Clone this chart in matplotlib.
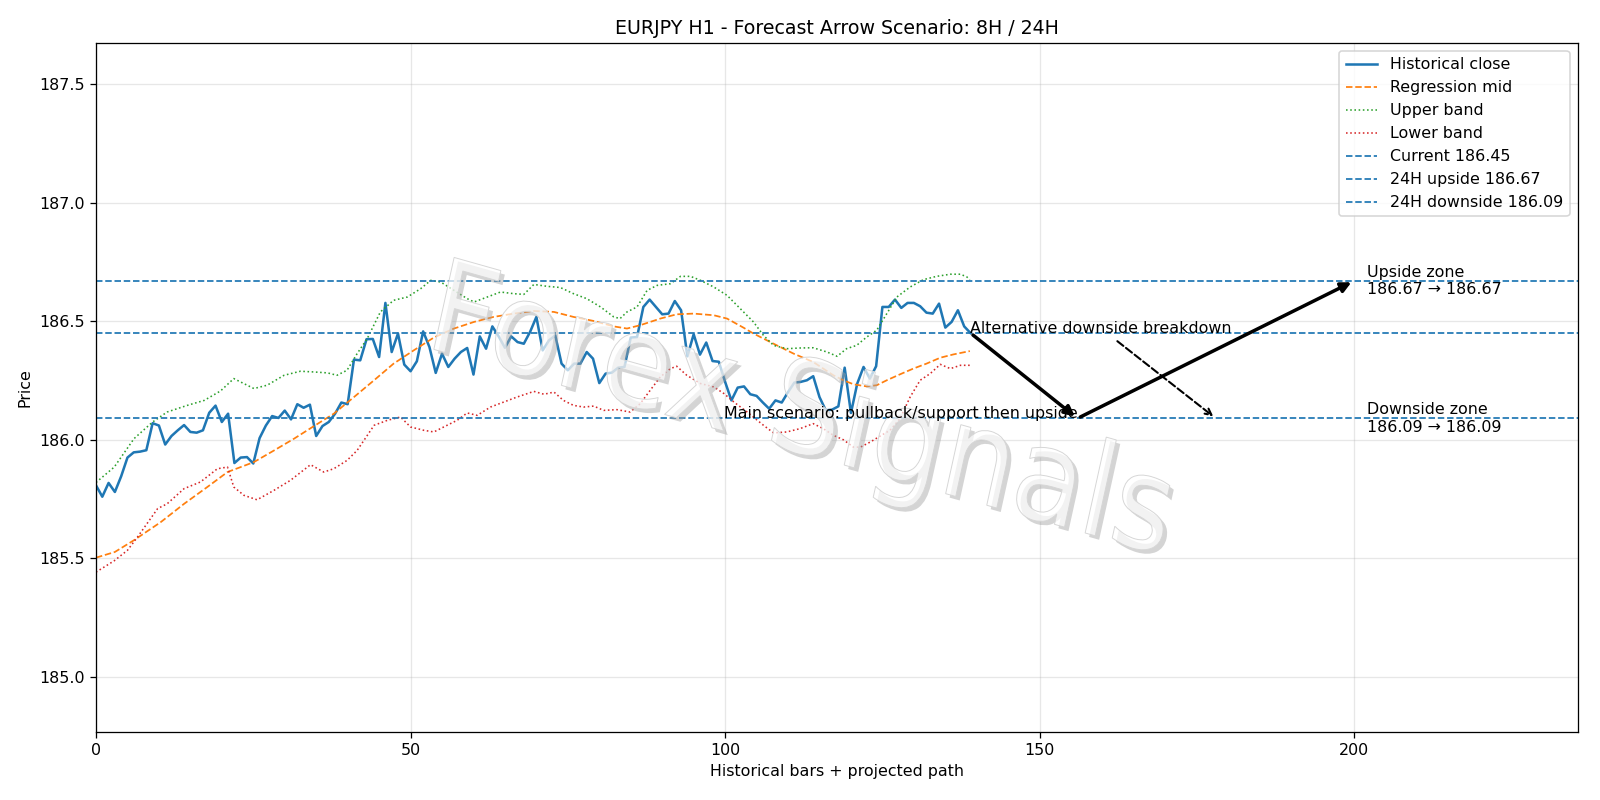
import matplotlib
matplotlib.use("Agg")
import matplotlib.pyplot as plt
import matplotlib.patheffects as pe
import matplotlib.transforms as mtransforms
from matplotlib.textpath import TextPath
from matplotlib.patches import PathPatch
from matplotlib.font_manager import FontProperties
import numpy as np

# historical closes, one per bar
close = [
    185.808, 185.760, 185.818, 185.780, 185.846, 185.925, 185.947, 185.950, 185.956, 186.070,
    186.060, 185.980, 186.016, 186.040, 186.062, 186.033, 186.030, 186.040, 186.114, 186.144,
    186.075, 186.110, 185.902, 185.925, 185.927, 185.900, 186.007, 186.060, 186.100, 186.092,
    186.123, 186.086, 186.150, 186.135, 186.148, 186.016, 186.058, 186.075, 186.110, 186.157,
    186.150, 186.338, 186.335, 186.424, 186.425, 186.349, 186.577, 186.370, 186.448, 186.317,
    186.289, 186.331, 186.457, 186.391, 186.282, 186.363, 186.307, 186.342, 186.370, 186.387,
    186.275, 186.436, 186.384, 186.478, 186.436, 186.388, 186.436, 186.412, 186.405, 186.455,
    186.518, 186.377, 186.419, 186.440, 186.321, 186.293, 186.321, 186.321, 186.370, 186.342,
    186.239, 186.279, 186.283, 186.304, 186.307, 186.431, 186.433, 186.560, 186.591, 186.560,
    186.529, 186.532, 186.585, 186.546, 186.352, 186.445, 186.359, 186.410, 186.332, 186.329,
    186.244, 186.166, 186.220, 186.225, 186.192, 186.185, 186.157, 186.131, 186.166, 186.157,
    186.201, 186.241, 186.244, 186.251, 186.268, 186.180, 186.124, 186.127, 186.141, 186.304,
    186.113, 186.237, 186.307, 186.258, 186.310, 186.560, 186.560, 186.591, 186.556, 186.577,
    186.577, 186.563, 186.536, 186.532, 186.574, 186.473, 186.497, 186.546, 186.478, 186.450,
]

# regression mid / bands, sampled along the bars
mid_x = [0, 3, 6, 10.3, 14, 17.7, 20.9, 25.1, 28.3, 31.5, 34.6, 37.8, 41, 44.2, 47.3, 50.5,
         53.7, 56.9, 60.1, 63.2, 66.4, 69.6, 72.8, 75.9, 79.1, 82.3, 84.4, 86.5, 89.7, 92.3,
         95, 98.2, 100.3, 102.9, 104.5, 107.7, 110.9, 114, 117.2, 118.8, 120.4, 122.5, 124.1,
         125.7, 127.8, 129.9, 132, 134.2, 136.3, 138.9]
mid_y = [185.503, 185.527, 185.576, 185.653, 185.730, 185.801, 185.864, 185.906, 185.955,
         186.005, 186.057, 186.110, 186.180, 186.251, 186.321, 186.377, 186.431, 186.469,
         186.497, 186.518, 186.532, 186.543, 186.539, 186.518, 186.501, 186.478, 186.469,
         186.483, 186.511, 186.529, 186.532, 186.525, 186.511, 186.473, 186.448, 186.405,
         186.363, 186.328, 186.272, 186.251, 186.234, 186.225, 186.230, 186.251, 186.276,
         186.300, 186.321, 186.346, 186.360, 186.374]

upper_x = [0, 2.9, 6.05, 9, 11.3, 14.5, 17.2, 19.8, 21.9, 25.1, 27.2, 29.9, 32.5, 34.6, 36.8,
           38.3, 39.9, 41.5, 43.1, 45.2, 47.3, 49.5, 51.6, 53.2, 54.8, 56.9, 59, 60.1, 62.2,
           64.3, 66.4, 68, 69.6, 71.7, 73.8, 75.9, 78, 80.2, 82.3, 83.3, 84.4, 86, 87.6, 89.2,
           91.3, 92.9, 94.5, 96.1, 98.2, 100.3, 102.4, 104.5, 106.1, 107.7, 109.8, 111.9, 114,
           116.2, 117.8, 119.3, 120.9, 122.5, 124.1, 125.7, 127.3, 129.4, 131.5, 133.6, 135.8,
           137.4, 138.4, 138.9]
upper_y = [185.820, 185.885, 186.005, 186.075, 186.117, 186.145, 186.166, 186.206, 186.258,
           186.216, 186.230, 186.272, 186.289, 186.286, 186.282, 186.272, 186.293, 186.363,
           186.426, 186.539, 186.588, 186.602, 186.637, 186.672, 186.665, 186.630, 186.595,
           186.581, 186.602, 186.623, 186.616, 186.613, 186.655, 186.647, 186.642, 186.616,
           186.595, 186.560, 186.518, 186.511, 186.539, 186.560, 186.630, 186.651, 186.658,
           186.689, 186.689, 186.672, 186.644, 186.609, 186.553, 186.497, 186.440, 186.398,
           186.384, 186.387, 186.388, 186.370, 186.352, 186.384, 186.398, 186.433, 186.462,
           186.532, 186.602, 186.644, 186.675, 186.689, 186.698, 186.698, 186.687, 186.675]

lower_x = [0, 2.9, 5, 6.6, 9.8, 11.3, 14, 16.6, 19.3, 20.9, 21.9, 23.5, 25.6, 28.3, 30.9,
           34.1, 36.2, 37.8, 39.9, 41.5, 42.6, 44.2, 46.3, 48.4, 50, 52.1, 53.7, 55.8, 57.4,
           59, 60.6, 62.7, 64.8, 66.9, 69.6, 71.2, 72.8, 74.3, 75.9, 77.5, 79.1, 80.7, 82.8,
           84.9, 86.5, 88.1, 89.7, 91.3, 92.3, 93.9, 96.1, 98.2, 99.8, 101.4, 103.5, 106.1,
           107.7, 109.8, 111.9, 114, 115.6, 117.2, 118.8, 120.4, 121.5, 123.1, 124.6, 126.2,
           127.8, 129.4, 131, 132.6, 134.2, 135.8, 137.4, 138.9]
lower_y = [185.442, 185.490, 185.534, 185.590, 185.710, 185.730, 185.794, 185.822, 185.878,
           185.885, 185.801, 185.766, 185.747, 185.787, 185.829, 185.895, 185.864, 185.878,
           185.913, 185.955, 185.998, 186.061, 186.082, 186.096, 186.054, 186.040, 186.033,
           186.061, 186.082, 186.113, 186.103, 186.138, 186.159, 186.180, 186.204, 186.192,
           186.201, 186.166, 186.145, 186.138, 186.142, 186.124, 186.127, 186.117, 186.152,
           186.209, 186.265, 186.300, 186.310, 186.272, 186.237, 186.223, 186.195, 186.159,
           186.117, 186.061, 186.029, 186.033, 186.047, 186.068, 186.047, 186.019, 186.000,
           185.969, 185.969, 185.991, 186.015, 186.040, 186.089, 186.180, 186.251, 186.279,
           186.318, 186.300, 186.314, 186.314]

current = 186.45
upside = 186.67
downside = 186.09

# projected path: now -> pullback -> upside target, plus alt breakdown target
path_x = [139, 156, 200]
alt_target_x = 178
zone_label_x = 202

dpi = 1600 / 14
fig, ax = plt.subplots(figsize=(14, 7), dpi=dpi)
fig.subplots_adjust(left=0.06, right=0.986, top=0.946, bottom=0.085)

bars = np.arange(len(close))
ax.plot(bars, close, color="tab:blue", lw=1.6, label="Historical close")
ax.plot(mid_x, mid_y, color="tab:orange", ls="--", lw=1.1, label="Regression mid")
ax.plot(upper_x, upper_y, color="tab:green", ls=":", lw=1.0, label="Upper band")
ax.plot(lower_x, lower_y, color="tab:red", ls=":", lw=1.0, label="Lower band")

ax.axhline(current, color="tab:blue", ls="--", lw=1.1, label=f"Current {current:.2f}")
ax.axhline(upside, color="tab:blue", ls="--", lw=1.1, label=f"24H upside {upside:.2f}")
ax.axhline(downside, color="tab:blue", ls="--", lw=1.1, label=f"24H downside {downside:.2f}")

# main scenario arrows
ax.annotate("", xy=(path_x[1], downside), xytext=(path_x[0], current),
            arrowprops=dict(arrowstyle="-|>", lw=2.2, color="black", mutation_scale=13),
            zorder=6)
ax.annotate("", xy=(path_x[2], upside), xytext=(path_x[1], downside),
            arrowprops=dict(arrowstyle="-|>", lw=2.2, color="black", mutation_scale=13),
            zorder=6)
ax.text(path_x[1], downside, "Main scenario: pullback/support then upside",
        ha="right", va="baseline", fontsize=10, zorder=6)

# alternative
ax.annotate("Alternative downside breakdown", xy=(alt_target_x, downside),
            xytext=(path_x[0], current), fontsize=10, zorder=6,
            arrowprops=dict(arrowstyle="->", lw=1.3, ls="--", color="black"))

ax.text(zone_label_x, upside, f"Upside zone\n{upside:.2f} \u2192 {upside:.2f}",
        va="center", ha="left", fontsize=10, zorder=6)
ax.text(zone_label_x, downside, f"Downside zone\n{downside:.2f} \u2192 {downside:.2f}",
        va="center", ha="left", fontsize=10, zorder=6)

# watermark: tall, slanted, hollow-looking text
tp = TextPath((0, 0), "Forex Signals", size=1, prop=FontProperties(family="DejaVu Sans"))
v = tp.vertices
cx = (v[:, 0].min() + v[:, 0].max()) / 2
cy = (v[:, 1].min() + v[:, 1].max()) / 2
wm_tr = (mtransforms.Affine2D().translate(-cx, -cy).rotate_deg(-14).scale(115, 130)
         + mtransforms.ScaledTranslation(0.474, 0.46, ax.transAxes))
wm = PathPatch(tp, transform=wm_tr, facecolor=(1, 1, 1, 0.7),
               edgecolor=(0.84, 0.84, 0.84, 1.0), lw=0.6, zorder=4,
               path_effects=[pe.SimplePatchShadow(offset=(2.5, -2.5), shadow_rgbFace="#a0a0a0",
                                                  alpha=0.45),
                             pe.Normal()])
ax.add_artist(wm)

ax.set_xlim(0, 235.5)
ax.set_ylim(184.768, 187.672)
ax.grid(True, alpha=0.3)
ax.set_title("EURJPY H1 - Forecast Arrow Scenario: 8H / 24H")
ax.set_xlabel("Historical bars + projected path")
ax.set_ylabel("Price")
ax.legend(loc="upper right")

plt.savefig("out.png", dpi=dpi)
